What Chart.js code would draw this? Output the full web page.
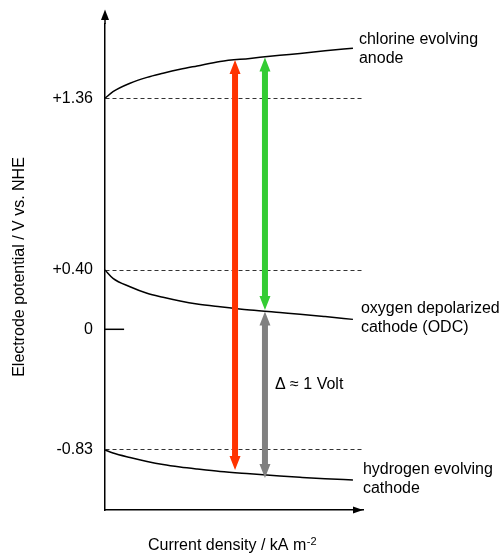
<!DOCTYPE html>
<html>
<head>
<meta charset="utf-8">
<script src="https://cdn.jsdelivr.net/npm/chart.js@4.4.1/dist/chart.umd.min.js"></script>
<style>
  html, body { margin: 0; padding: 0; background: #fff; }
  canvas { display: block; }
</style>
</head>
<body>
<canvas id="potentialChart" width="503" height="553"></canvas>
<script>
    // current density along the x axis (arbitrary units, no ticks in the figure)
    const currentDensity  = [0, 0.31, 0.97, 1.63, 2.25, 2.91, 3.57, 4.46, 5.62, 6.78, 7.56, 8.53, 9.61];
    // electrode potentials, V vs. NHE
    const chlorineAnode   = [1.36, 1.397, 1.444, 1.477, 1.500, 1.522, 1.541, 1.566, 1.583, 1.600, 1.610, 1.625, 1.640];
    const oxygenCathode   = [0.40, 0.344, 0.287, 0.243, 0.216, 0.191, 0.171, 0.152, 0.130, 0.113, 0.102, 0.086, 0.067];
    const hydrogenCathode = [-0.83, -0.851, -0.882, -0.909, -0.930, -0.947, -0.961, -0.978, -0.994, -1.009, -1.018, -1.028, -1.036];

    const potentialTicks      = [-0.83, 0, 0.40, 1.36];
    const potentialTickLabels = ['-0.83', '0', '+0.40', '+1.36'];

    // voltage arrows: x position, potential at top and bottom end
    const arrowX      = [5.04, 6.2, 6.2];
    const arrowTop    = [1.574, 1.588, 0.120];
    const arrowBottom = [-0.968, 0.130, -1.023];

    const curveNames = [
        ['chlorine evolving', 'anode'],
        ['oxygen depolarized', 'cathode (ODC)'],
        ['hydrogen evolving', 'cathode']
    ];
    const deltaLabel = 'Δ ≈ 1 Volt';
    const xTitle = 'Current density / kA m';
    const xTitleSup = '-2';

    // the potential axis of the figure is schematic (not to scale):
    // value -> fraction of the axis height, linear between the stops
    const axisStops    = [-1.243, -0.83, 0, 0.40, 1.36, 1.775];
    const axisDecimals = [0, 0.1235, 0.3718, 0.4938, 0.8471, 1];

    class SchematicScale extends Chart.LinearScale {
        getPixelForValue(value) {
            let i = 1;
            while (i < axisStops.length - 1 && value > axisStops[i]) i++;
            const t = (value - axisStops[i - 1]) / (axisStops[i] - axisStops[i - 1]);
            return this.getPixelForDecimal(axisDecimals[i - 1] + t * (axisDecimals[i] - axisDecimals[i - 1]));
        }
        getValueForPixel(pixel) {
            const d = this.getDecimalForPixel(pixel);
            let i = 1;
            while (i < axisDecimals.length - 1 && d > axisDecimals[i]) i++;
            const t = (d - axisDecimals[i - 1]) / (axisDecimals[i] - axisDecimals[i - 1]);
            return axisStops[i - 1] + t * (axisStops[i] - axisStops[i - 1]);
        }
    }
    SchematicScale.id = 'schematic';
    SchematicScale.defaults = {};
    Chart.register(SchematicScale);

    Chart.defaults.font.family = '"Liberation Sans", Arial, sans-serif';
    Chart.defaults.font.size = 16;
    Chart.defaults.color = '#000';

    function drawDoubleArrow(ctx, x, yTop, yBottom, color) {
        const headLen = 14, headHalf = 5.5, shaftHalf = 3;
        ctx.fillStyle = color;
        ctx.beginPath();
        ctx.moveTo(x, yTop);
        ctx.lineTo(x + headHalf, yTop + headLen);
        ctx.lineTo(x + shaftHalf, yTop + headLen);
        ctx.lineTo(x + shaftHalf, yBottom - headLen);
        ctx.lineTo(x + headHalf, yBottom - headLen);
        ctx.lineTo(x, yBottom);
        ctx.lineTo(x - headHalf, yBottom - headLen);
        ctx.lineTo(x - shaftHalf, yBottom - headLen);
        ctx.lineTo(x - shaftHalf, yTop + headLen);
        ctx.lineTo(x - headHalf, yTop + headLen);
        ctx.closePath();
        ctx.fill();
    }

    const decorations = {
        id: 'decorations',
        afterDatasetsDraw(chart) {
            const ctx = chart.ctx;
            ctx.save();
            chart.data.datasets.forEach((ds, i) => {
                if (!ds.arrowColor) return;
                const [a, b] = chart.getDatasetMeta(i).data;
                drawDoubleArrow(ctx, a.x, a.y, b.y, ds.arrowColor);
            });
            ctx.restore();
        },
        afterDraw(chart) {
            const { ctx, chartArea: { left, right, top, bottom } } = chart;
            const family = Chart.defaults.font.family;
            ctx.save();

            // axis arrow heads
            ctx.strokeStyle = '#000';
            ctx.fillStyle = '#000';
            ctx.lineWidth = 1.5;
            ctx.beginPath();
            ctx.moveTo(left, top);
            ctx.lineTo(left, top - 5);
            ctx.stroke();
            ctx.beginPath();
            ctx.moveTo(left, top - 14.5);
            ctx.lineTo(left - 4, top - 4);
            ctx.lineTo(left + 4, top - 4);
            ctx.closePath();
            ctx.fill();
            ctx.beginPath();
            ctx.moveTo(right, bottom);
            ctx.lineTo(right - 10, bottom - 3.5);
            ctx.lineTo(right - 10, bottom + 3.5);
            ctx.closePath();
            ctx.fill();

            // curve names next to the end of each curve
            ctx.font = '16px ' + family;
            ctx.textAlign = 'left';
            ctx.textBaseline = 'alphabetic';
            const offsets = [[6, -4.5], [8, -6.5], [10, -6]];
            curveNames.forEach((lines, i) => {
                const pts = chart.getDatasetMeta(i).data;
                const end = pts[pts.length - 1];
                lines.forEach((line, k) => {
                    ctx.fillText(line, end.x + offsets[i][0], end.y + offsets[i][1] + k * 19.5);
                });
            });

            // label beside the grey arrow
            const grey = chart.getDatasetMeta(chart.data.datasets.length - 1).data;
            ctx.fillText(deltaLabel, grey[0].x + 10, (grey[0].y + grey[1].y) / 2 - 6);

            // x axis title with superscript
            ctx.font = '16px ' + family;
            const w1 = ctx.measureText(xTitle).width;
            ctx.font = '11px ' + family;
            const w2 = ctx.measureText(xTitleSup).width;
            const x0 = (left + right) / 2 - (w1 + w2) / 2 - 2;
            ctx.font = '16px ' + family;
            ctx.fillText(xTitle, x0, 550);
            ctx.font = '11px ' + family;
            ctx.fillText(xTitleSup, x0 + w1 + 0.5, 545);

            ctx.restore();
        }
    };

    const curve = values => currentDensity.map((x, i) => ({ x: x, y: values[i] }));
    const curveStyle = { borderColor: '#000', borderWidth: 1.5, pointRadius: 0, cubicInterpolationMode: 'monotone' };
    const arrowColors = ['#ff3300', '#33cc33', '#808080'];

    const datasets = [
        Object.assign({ data: curve(chlorineAnode) }, curveStyle),
        Object.assign({ data: curve(oxygenCathode) }, curveStyle),
        Object.assign({ data: curve(hydrogenCathode) }, curveStyle),
        // short mark for 0 V on the axis
        { data: [{ x: 0, y: 0 }, { x: 0.74, y: 0 }], borderColor: '#000', borderWidth: 1.5, pointRadius: 0 }
    ];
    arrowX.forEach((x, i) => {
        datasets.push({
            data: [{ x: x, y: arrowTop[i] }, { x: x, y: arrowBottom[i] }],
            arrowColor: arrowColors[i],
            showLine: false,
            pointRadius: 0
        });
    });

    new Chart(document.getElementById('potentialChart'), {
        type: 'line',
        data: { datasets: datasets },
        options: {
            responsive: false,
            animation: false,
            events: [],
            layout: { padding: { top: 24, right: 140, bottom: 0, left: 0 } },
            plugins: { legend: { display: false }, tooltip: { enabled: false } },
            scales: {
                x: {
                    type: 'linear',
                    min: 0,
                    max: 10,
                    ticks: { display: false },
                    grid: { display: false },
                    border: { color: '#000', width: 1.5 },
                    afterFit: s => { s.height = 43; }
                },
                y: {
                    type: 'schematic',
                    min: axisStops[0],
                    max: axisStops[axisStops.length - 1],
                    afterBuildTicks: s => { s.ticks = potentialTicks.map(v => ({ value: v })); },
                    ticks: {
                        autoSkip: false,
                        padding: 12,
                        color: '#000',
                        font: { size: 16 },
                        callback: v => potentialTickLabels[potentialTicks.indexOf(v)]
                    },
                    grid: {
                        drawTicks: false,
                        lineWidth: 1,
                        color: c => (c.tick && c.tick.value === 0) ? 'rgba(0,0,0,0)' : '#333'
                    },
                    border: {
                        color: '#000',
                        width: 1.5,
                        dash: c => c.type === 'tick' ? [4, 3] : []
                    },
                    title: {
                        display: true,
                        text: 'Electrode potential / V vs. NHE',
                        color: '#000',
                        font: { size: 16 },
                        padding: { top: 10, bottom: 0 }
                    },
                    afterFit: s => { s.width = 105; }
                }
            }
        },
        plugins: [decorations]
    });
</script>
</body>
</html>
